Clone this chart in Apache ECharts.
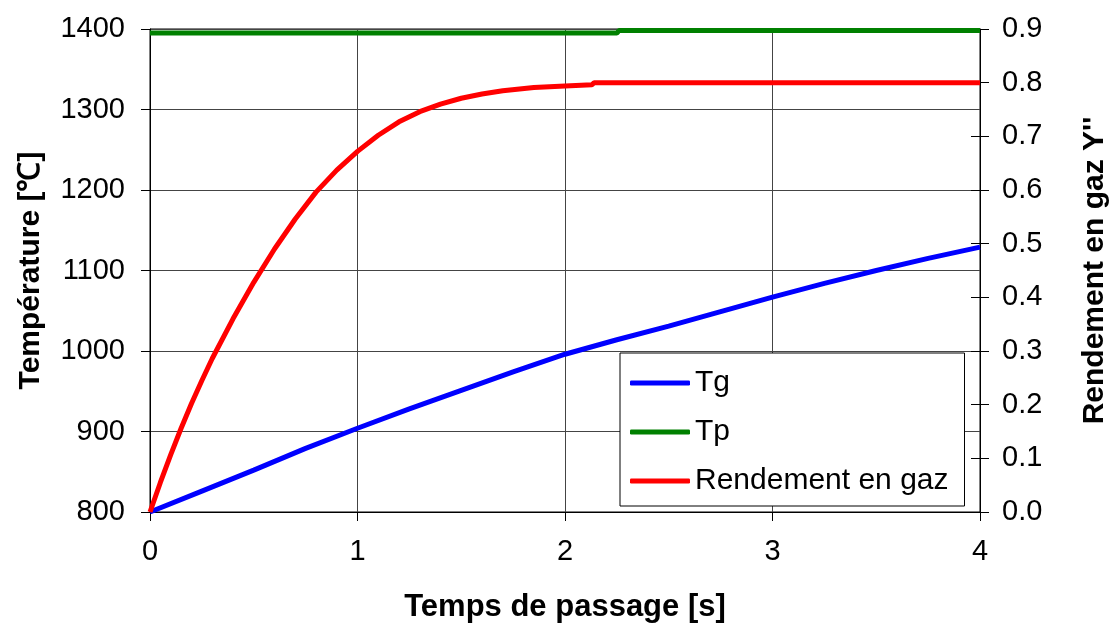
<!DOCTYPE html>
<html><head><meta charset="utf-8">
<script src="https://cdn.jsdelivr.net/npm/echarts@6/dist/echarts.min.js"></script>
<style>html,body{margin:0;padding:0;background:#fff}#c{width:1118px;height:630px}</style>
</head><body><div id="c"></div>
<script>
// Temps de passage [s] and values
const tgTime = [0, 0.25, 0.5, 0.75, 1, 1.25, 1.5, 1.75, 2, 2.25, 2.5, 2.75, 3, 3.25, 3.5, 3.75, 4];
const tgValues = [800, 826, 852, 879, 904, 928, 951, 974, 996, 1014, 1031, 1049, 1067, 1084, 1100, 1115, 1129];
const tpTime = [0, 2.25, 2.26, 4];
const tpValues = [1395, 1395, 1398, 1398];
const yTime = [0, 0.05, 0.1, 0.15, 0.2, 0.25, 0.3, 0.4, 0.5, 0.6, 0.7, 0.8, 0.9, 1.0, 1.1, 1.2, 1.3, 1.4, 1.5, 1.6, 1.7, 1.85, 2.0, 2.13, 2.14, 4];
const yValues = [0, 0.055, 0.107, 0.156, 0.202, 0.245, 0.286, 0.36, 0.428, 0.49, 0.546, 0.596, 0.637, 0.672, 0.702, 0.727, 0.746, 0.76, 0.771, 0.779, 0.785, 0.791, 0.794, 0.796, 0.8, 0.8];
const seriesNames = ['Tg', 'Tp', 'Rendement en gaz'];
const xTitle = 'Temps de passage [s]';
const yLeftTitle = 'Température [℃]';
const yRightTitle = "Rendement en gaz Y''";

const pair = (xs, ys) => xs.map((x, i) => [x, ys[i]]);
const FONT = 'Liberation Sans';
const chart = echarts.init(document.getElementById('c'), null, {renderer: 'canvas'});
chart.setOption({
  backgroundColor: '#fff',
  animation: false,
  textStyle: {fontFamily: FONT},
  grid: {left: 150, right: 137, top: 29, bottom: 118, show: true, borderColor: '#000', borderWidth: 1},
  legend: {
    orient: 'vertical', left: 620, top: 353,
    backgroundColor: '#fff', borderColor: '#000', borderWidth: 1,
    padding: [15, 16, 10, 10],
    itemWidth: 60, itemHeight: 5, itemGap: 19, icon: 'roundRect',
    textStyle: {fontSize: 30, lineHeight: 30, color: '#000', fontFamily: FONT},
    data: seriesNames
  },
  xAxis: {
    type: 'value', min: 0, max: 4, interval: 1,
    name: xTitle, nameLocation: 'middle', nameGap: 80,
    nameTextStyle: {fontSize: 31, fontWeight: 'bold', color: '#000', fontFamily: FONT},
    axisLine: {lineStyle: {color: '#000', width: 1}},
    axisTick: {show: true, length: 9, lineStyle: {color: '#000'}},
    axisLabel: {fontSize: 29, color: '#000', margin: 25},
    splitLine: {show: true, lineStyle: {color: '#444', width: 1}}
  },
  yAxis: [{
    type: 'value', min: 800, max: 1400, interval: 100, position: 'left',
    name: yLeftTitle, nameLocation: 'middle', nameGap: 104, nameRotate: 90,
    nameTextStyle: {fontSize: 30, fontWeight: 'bold', color: '#000', fontFamily: FONT},
    axisLine: {show: true, lineStyle: {color: '#000'}},
    axisTick: {show: true, length: 9, lineStyle: {color: '#000'}},
    axisLabel: {fontSize: 29, color: '#000', margin: 25, formatter: v => String(v)},
    splitLine: {show: true, lineStyle: {color: '#444', width: 1}}
  }, {
    type: 'value', min: 0, max: 0.9, interval: 0.1, position: 'right',
    name: yRightTitle, nameLocation: 'middle', nameGap: 100, nameRotate: 90,
    nameTextStyle: {fontSize: 30, fontWeight: 'bold', color: '#000', fontFamily: FONT},
    axisLine: {show: true, lineStyle: {color: '#000'}},
    axisTick: {show: true, length: 9, lineStyle: {color: '#000'}},
    axisLabel: {fontSize: 29, color: '#000', margin: 22, formatter: v => v.toFixed(1)},
    splitLine: {show: false}
  }, {
    type: 'value', min: 0, max: 0.9, interval: 0.1, position: 'right',
    axisLine: {show: false},
    axisTick: {show: true, inside: true, length: 9, lineStyle: {color: '#000'}},
    axisLabel: {show: false},
    splitLine: {show: false}
  }],
  series: [{
    name: seriesNames[0], type: 'line', yAxisIndex: 0, symbol: 'none',
    data: pair(tgTime, tgValues), color: '#0000FF', lineStyle: {width: 5, color: '#0000FF'}
  }, {
    name: seriesNames[1], type: 'line', yAxisIndex: 0, symbol: 'none',
    data: pair(tpTime, tpValues), color: '#008000', lineStyle: {width: 5, color: '#008000'}
  }, {
    name: seriesNames[2], type: 'line', yAxisIndex: 1, symbol: 'none',
    data: pair(yTime, yValues), color: '#FF0000', lineStyle: {width: 5, color: '#FF0000'}
  }]
});
</script></body></html>
